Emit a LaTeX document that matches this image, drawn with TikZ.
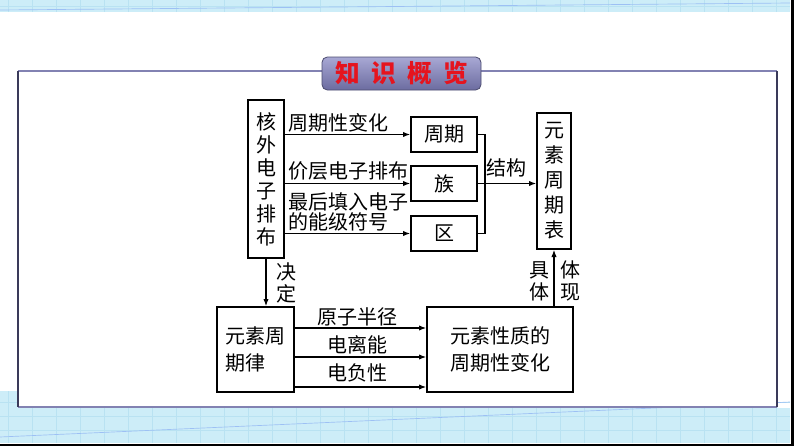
\documentclass[tikz,border=0pt]{standalone}
\usepackage{fontspec}
\setmainfont{Noto Sans CJK SC}
\usetikzlibrary{arrows.meta,calc}
\definecolor{bandblue}{HTML}{CDEDF8}
\definecolor{gridblue}{HTML}{B9E2F2}
\definecolor{framelav}{HTML}{8282B2}
\definecolor{framedark}{HTML}{3A3A5A}
\definecolor{titletop}{HTML}{A8A8D4}
\definecolor{titlebot}{HTML}{6C6CA0}
\definecolor{titlered}{HTML}{E5141E}
\tikzset{
  box/.style={draw=black, line width=1pt, inner sep=0pt, align=center, font=\fontsize{15pt}{17.25pt}\selectfont},
  lbl/.style={inner sep=0pt, align=center, font=\fontsize{15pt}{16.5pt}\selectfont},
  arr/.style={line width=0.9pt, -{Latex[length=5.5pt,width=4pt]}},
  gridln/.style={draw=gridblue, line width=0.3pt}
}
\begin{document}
\begin{tikzpicture}[x=0.75pt,y=-0.75pt]
\useasboundingbox (0,0) rectangle (794,446);
% background bands
\fill[bandblue] (0,0) rectangle (790,12);
\fill[bandblue] (0,391) rectangle (778,443);
\fill[bandblue] (778,408) rectangle (790,443);
\foreach \x in {8,32,...,790} {
  \draw[gridln] (\x,0) -- (\x,12);
  \draw[gridln] (\x,391) -- (\x,443);
}
\draw[gridln] (0,6) -- (790,6);
\foreach \y in {402,416,430} { \draw[gridln] (0,\y) -- (790,\y); }
\draw[draw=gridblue!85!blue, line width=0.5pt] (0,437) -- (790,402);
\draw[draw=gridblue!85!blue, line width=0.5pt] (0,10) -- (790,3);
\fill[black] (791,0) rectangle (794,446);
\fill[black] (0,443.5) rectangle (794,446);
% frame
\fill[white] (18,71) rectangle (777,407);
\draw[framelav, line width=1.4pt] (18,71) -- (777,71);
\draw[framelav, line width=1.4pt] (18,407) -- (777,407);
\draw[framedark, line width=1.1pt] (18,71) -- (18,407);
\draw[framedark, line width=1.1pt] (777,71) -- (777,407);
% title
\node[draw=titlebot!70!black, line width=0.6pt, rounded corners=4pt, top color=titletop, bottom color=titlebot,
      minimum width=119.25pt, minimum height=24.75pt, inner sep=0pt, text=titlered,
      font=\fontsize{18.5pt}{18.5pt}\selectfont\bfseries] (title) at (401.5,73.5)
      {知\hspace{8.5pt}识\hspace{8.5pt}概\hspace{8.5pt}览};
% boxes
\node[box, minimum width=27pt, minimum height=118.5pt] (hw) at (266,179) {核\\外\\电\\子\\排\\布};
\node[box, minimum width=49.5pt, minimum height=26.25pt] (zq) at (444,134.5) {周期};
\node[box, minimum width=49.5pt, minimum height=26.25pt] (zu) at (444,183.5) {族};
\node[box, minimum width=49.5pt, minimum height=26.25pt] (qu) at (444,233.5) {区};
\node[box, minimum width=25.5pt, minimum height=102pt, font=\fontsize{15pt}{18.75pt}\selectfont] (tb) at (554,181) {元\\素\\周\\期\\表};
\node[box, minimum width=57.75pt, minimum height=63.75pt, align=left, font=\fontsize{15pt}{20.25pt}\selectfont] (lw) at (255.5,349.5) {元素周\\期律};
\node[box, minimum width=109.5pt, minimum height=63.75pt, font=\fontsize{15pt}{20.25pt}\selectfont] (xz) at (500,349.5) {元素性质的\\周期性变化};
% top arrows
\draw[arr] (hw.east |- zq.west) -- (zq.west);
\draw[arr] (hw.east |- zu.west) -- (zu.west);
\draw[arr] (hw.east |- qu.west) -- (qu.west);
\node[lbl, anchor=west] (l1) at (288,123) {周期性变化};
\node[lbl, anchor=west] (l2) at (288,171) {价层电子排布};
\node[lbl, anchor=west, align=left, font=\fontsize{15pt}{15pt}\selectfont] (l3) at (288,212) {最后填入电子\\的能级符号};
% bracket to table
\coordinate (br) at (485,0);
\draw[line width=0.9pt] (zq.east) -- (zq.east -| br) -- (qu.east -| br) -- (qu.east);
\draw[arr] (zu.east) -- (zu.east -| tb.west);
\node[lbl] (jg) at (506,168) {结构};
% decide
\draw[arr] (hw.south) -- (hw.south |- lw.north);
\node[lbl] (jd) at (286,283) {决\\定};
% embody
\draw[arr] (tb.south |- xz.north) -- (tb.south);
\node[lbl] (jt) at (539,281) {具\\体};
\node[lbl] (tx) at (570,281) {体\\现};
% bottom arrows
\coordinate (r1) at (0,328);
\coordinate (r2) at (0,357);
\coordinate (r3) at (0,387);
\draw[arr] (lw.east |- r1) -- (xz.west |- r1);
\draw[arr] (lw.east |- r2) -- (xz.west |- r2);
\draw[arr] (lw.east |- r3) -- (xz.west |- r3);
\node[lbl] (a1) at (357,317) {原子半径};
\node[lbl] (a2) at (357,345) {电离能};
\node[lbl] (a3) at (357,373) {电负性};
\end{tikzpicture}
\end{document}
